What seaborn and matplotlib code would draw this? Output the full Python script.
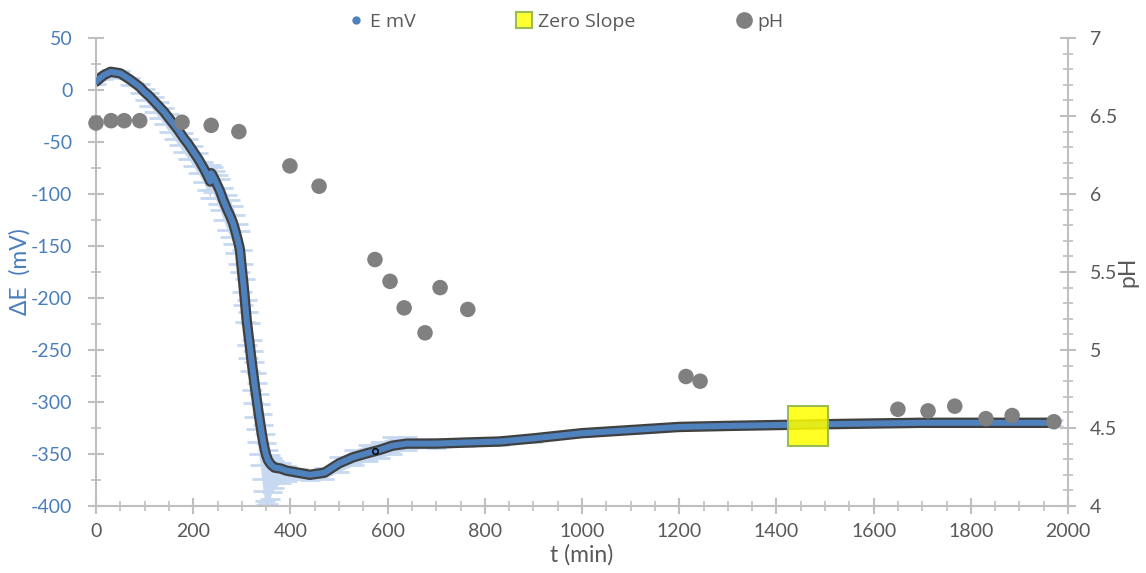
import numpy as np
import pandas as pd
import matplotlib
matplotlib.use("Agg")
import matplotlib.pyplot as plt
import seaborn as sns
from matplotlib.lines import Line2D
from matplotlib.ticker import MultipleLocator

# ---------------- data ----------------
t_min = [0, 15, 30, 50, 70, 90, 100, 110, 120, 130, 140, 150, 160, 170, 180, 190,
         200, 210, 220, 228, 235,
         237, 240, 245, 250, 255, 262, 270, 276, 282, 287, 292, 296, 300, 303, 306,
         310, 313, 316, 320, 323, 326, 329, 332, 335, 338, 341, 344, 347, 350, 354,
         358, 362, 367,
         380, 392, 416, 440, 470, 500, 530, 560, 584, 610, 640, 700, 760, 830, 900,
         1000, 1100, 1200, 1300, 1420, 1550, 1700, 1850, 1970]
e_mv = [8, 14, 17.5, 16, 10, 3, -2, -6, -11, -16, -21, -27, -33, -39, -46, -52,
        -59, -66, -74, -81, -88,
        -80, -82, -87, -92, -97, -106, -115, -121, -128, -136, -145, -153, -172, -185, -200,
        -221, -233, -244, -260, -271, -282, -292, -302, -312, -321, -330, -338, -345, -351, -356,
        -359, -361, -363,
        -364, -366, -368, -370, -368, -359, -353, -349, -346, -342, -340, -340, -339, -338, -335,
        -330, -327, -324, -323, -322, -321, -320, -320, -320]
err_lo = [2, 3, 3, 4, 5, 6, 8, 9, 10, 11, 12, 13, 14, 14, 14, 14,
          14, 14, 14, 15, 16,
          16, 16, 17, 18, 18, 19, 20, 20, 20, 21, 22, 22, 22, 22, 23,
          24, 25, 26, 28, 30, 32, 34, 36, 38, 40, 44, 48, 50, 48, 42,
          34, 26, 20,
          14, 10, 6, 5, 6, 8, 8, 8, 8, 8, 6, 4, 3, 3, 3,
          3, 3, 3, 3, 3, 3, 3, 3, 3]
err_hi = [2, 2, 2, 2, 2, 3, 3, 3, 4, 4, 4, 4, 5, 5, 5, 5,
          5, 5, 5, 6, 6,
          8, 8, 9, 10, 11, 12, 14, 15, 16, 16, 16, 17, 18, 18, 18,
          19, 20, 20, 20, 20, 20, 20, 20, 20, 19, 18, 16, 14, 12, 10,
          8, 7, 6,
          5, 4, 4, 4, 5, 6, 7, 8, 8, 8, 6, 4, 3, 3, 3,
          3, 3, 3, 3, 3, 3, 3, 3, 3]

zero_t = [1466]
zero_e = [-323]

mark_t = [575]
mark_e = [-347]

ph_t = [0, 31, 58, 90, 177, 237, 294, 399, 459, 574, 605, 634, 677, 708, 765,
        1214, 1243, 1650, 1712, 1767, 1831, 1885, 1971]
ph_v = [6.455, 6.47, 6.47, 6.47, 6.46, 6.44, 6.40, 6.18, 6.05, 5.58, 5.44, 5.27,
        5.11, 5.40, 5.26, 4.83, 4.80, 4.62, 4.61, 4.64, 4.56, 4.58, 4.54]

x_ticks = [0, 200, 400, 600, 800, 1000, 1200, 1400, 1600, 1800, 2000]
e_ticks = [50, 0, -50, -100, -150, -200, -250, -300, -350, -400]
ph_ticks = [4, 4.5, 5, 5.5, 6, 6.5, 7]

# ---------------- style ----------------
sns.set_theme(style="white")
plt.rcParams['font.family'] = ['Lato', 'DejaVu Sans']
plt.rcParams['axes.unicode_minus'] = False

BLUE = '#4f81bd'
BLUE_LBL = '#4a7ebb'
DARK = '#404040'
ERR = '#c6d9f1'
GRAY = '#808080'
TXT = '#595959'
AX = '#bfbfbf'
FS = 14
FS_T = 16.5

df = pd.DataFrame({'t': t_min, 'E': e_mv})
df['lo'] = np.array(e_mv) - np.array(err_lo)
df['hi'] = np.array(e_mv) + np.array(err_hi)
dph = pd.DataFrame({'t': ph_t, 'pH': ph_v})

fig = plt.figure(figsize=(11.46, 5.73), dpi=100)
ax = fig.add_axes([96/1146, 1-506/573, (1068-96)/1146, (506-38)/573])
ax2 = ax.twinx()

# error band + caps
ax.fill_between(df['t'], df['lo'], df['hi'], color=ERR, lw=0, zorder=1)
ax.errorbar(df['t'], df['E'], yerr=[err_lo, err_hi], fmt='none', ecolor=ERR,
            elinewidth=0, capsize=7, capthick=2, zorder=1)
# outline + main line
sns.lineplot(data=df, x='t', y='E', ax=ax, color=DARK, lw=7.5, zorder=2,
             legend=False, sort=False)
sns.lineplot(data=df, x='t', y='E', ax=ax, color=BLUE, lw=4.3, zorder=3,
             legend=False, sort=False)
ax.plot(mark_t, mark_e, 'o', ms=4, mfc='none', mec='black', mew=1, zorder=4)
ax.plot(zero_t, zero_e, 's', ms=29.5, mfc=(1, 1, 0, 0.85), mec='#9bbb59',
        mew=1.5, zorder=5)

# pH points (on the twin axes, drawn on top)
sns.scatterplot(data=dph, x='t', y='pH', ax=ax2, color=GRAY, s=125,
                edgecolor='none', zorder=6, legend=False, clip_on=False)

ax.set_xlim(0, 2000)
ax.set_ylim(-400, 50)
ax2.set_ylim(4, 7)

ax.set_xticks(x_ticks)
ax.set_yticks(e_ticks)
ax2.set_yticks(ph_ticks)
ax2.set_yticklabels([('%g' % v) for v in ph_ticks])
ax.xaxis.set_minor_locator(MultipleLocator(50))
ax.yaxis.set_minor_locator(MultipleLocator(25))
ax2.yaxis.set_minor_locator(MultipleLocator(0.1))

for a in (ax, ax2):
    for s in a.spines.values():
        s.set_visible(False)
ax.spines['left'].set_visible(True)
ax.spines['bottom'].set_visible(True)
ax2.spines['right'].set_visible(True)
for s in (ax.spines['left'], ax.spines['bottom'], ax2.spines['right']):
    s.set_color(AX)
    s.set_linewidth(1.5)

ax.tick_params(axis='both', which='major', direction='inout', length=12,
               width=1.5, color=AX, labelsize=FS)
ax.tick_params(axis='both', which='minor', direction='inout', length=7,
               width=1.2, color=AX)
ax.tick_params(axis='x', which='both', bottom=True, labelcolor=TXT, pad=6)
ax.tick_params(axis='y', which='both', left=True, labelcolor=BLUE_LBL, pad=11)
ax2.tick_params(axis='y', which='major', direction='inout', length=12,
                width=1.5, color=AX, labelsize=FS, labelcolor=TXT, right=True, pad=10)
ax2.tick_params(axis='y', which='minor', direction='inout', length=7,
                width=1.2, color=AX, right=True)

ax.set_xlabel('t (min)', fontsize=FS_T, color=TXT, labelpad=3)
ax.set_ylabel('ΔE  (mV)', fontsize=FS_T, color=BLUE_LBL, labelpad=0)
ax2.set_ylabel('pH', fontsize=FS_T, color=TXT, rotation=90, labelpad=0)
ax.grid(False)
ax2.grid(False)

handles = [
    Line2D([], [], ls='none', marker='o', ms=5, color=BLUE, mec=BLUE),
    Line2D([], [], ls='none', marker='s', ms=11, mfc='#ffff33', mec='#9bbb59', mew=1.5),
    Line2D([], [], ls='none', marker='o', ms=11, color=GRAY, mec=GRAY),
]
leg = fig.legend(handles, ['E mV', 'Zero Slope', 'pH'], loc='center',
                 bbox_to_anchor=(0.494, 0.962), ncol=3, frameon=False,
                 prop={'family': ['Open Sans', 'DejaVu Sans'], 'size': 14},
                 handlelength=0.8, handletextpad=0.3, columnspacing=5.2)
for txt in leg.get_texts():
    txt.set_color(TXT)

fig.savefig('out.png', dpi=100)
